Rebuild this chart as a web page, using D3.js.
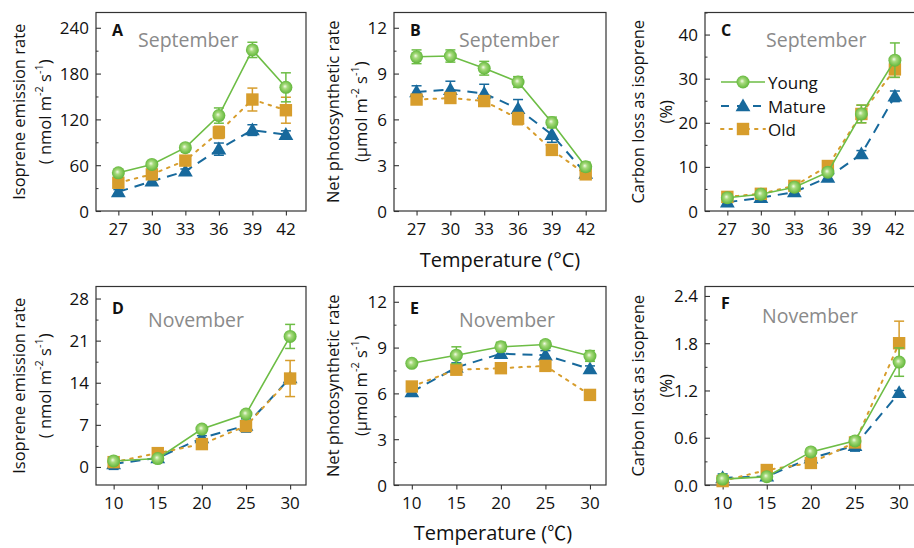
<!DOCTYPE html>
<html>
<head>
<meta charset="utf-8">
<script src="https://cdn.jsdelivr.net/npm/d3@7"></script>
<style>
  html, body { margin: 0; padding: 0; background: #fff; }
  svg { display: block; }
  text { font-family: "Open Sans", "Noto Sans", sans-serif; fill: #111; }
</style>
</head>
<body>
<svg id="chart" width="914" height="548"></svg>
<script>
// Temperatures of the response curves
const tempSep = [27, 30, 33, 36, 39, 42];
const tempNov = [10, 15, 20, 25, 30];

// Leaf age groups
const groups = ["Young", "Mature", "Old"];

// September: isoprene emission rate (nmol m-2 s-1)
const isoSepYoung = [50, 61, 83, 125, 211, 162];
const isoSepYoungErr = [3, 3, 3, 10, 10, 19];
const isoSepMature = [25, 39, 52, 81, 106, 100];
const isoSepMatureErr = [3, 3, 3, 8, 7, 5];
const isoSepOld = [37, 48, 66, 103, 146, 132];
const isoSepOldErr = [3, 3, 4, 8, 15, 17];

// September: net photosynthetic rate (umol m-2 s-1)
const pnSepYoung = [10.1, 10.15, 9.35, 8.45, 5.8, 2.9];
const pnSepYoungErr = [0.45, 0.4, 0.45, 0.35, 0.35, 0.3];
const pnSepMature = [7.8, 7.95, 7.7, 6.7, 5.0, 2.45];
const pnSepMatureErr = [0.4, 0.55, 0.6, 0.6, 0.5, 0.3];
const pnSepOld = [7.3, 7.4, 7.2, 6.05, 4.0, 2.4];
const pnSepOldErr = [0.3, 0.3, 0.3, 0.4, 0.35, 0.3];

// September: carbon loss as isoprene (%)
const clSepYoung = [3.0, 3.8, 5.4, 8.8, 22.0, 34.2];
const clSepYoungErr = [0.5, 0.5, 0.5, 0.7, 2.0, 3.9];
const clSepMature = [2.0, 3.0, 4.3, 7.6, 12.9, 26.0];
const clSepMatureErr = [0.4, 0.4, 0.5, 0.6, 0.8, 1.2];
const clSepOld = [3.2, 3.9, 5.7, 10.2, 22.0, 32.1];
const clSepOldErr = [0.4, 0.4, 0.5, 0.8, 2.0, 1.8];

// November: isoprene emission rate
const isoNovYoung = [1.0, 1.4, 6.3, 8.8, 21.7];
const isoNovYoungErr = [0.4, 0.3, 0.5, 0.5, 2.0];
const isoNovMature = [0.5, 1.5, 4.8, 6.9, 14.8];
const isoNovMatureErr = [0.9, 0.3, 0.4, 1.1, 0.5];
const isoNovOld = [0.8, 2.3, 3.8, 6.8, 14.7];
const isoNovOldErr = [0.3, 0.3, 0.4, 0.6, 3.0];

// November: net photosynthetic rate
const pnNovYoung = [7.97, 8.5, 9.05, 9.2, 8.45];
const pnNovYoungErr = [0.2, 0.55, 0.3, 0.25, 0.35];
const pnNovMature = [6.1, 7.7, 8.6, 8.5, 7.6];
const pnNovMatureErr = [0.2, 0.3, 0.25, 0.3, 0.2];
const pnNovOld = [6.45, 7.55, 7.65, 7.8, 5.9];
const pnNovOldErr = [0.2, 0.2, 0.2, 0.25, 0.2];

// November: carbon lost as isoprene
const clNovYoung = [0.075, 0.105, 0.42, 0.56, 1.56];
const clNovYoungErr = [0.02, 0.02, 0.03, 0.05, 0.18];
const clNovMature = [0.09, 0.11, 0.34, 0.5, 1.17];
const clNovMatureErr = [0.05, 0.03, 0.03, 0.07, 0.03];
const clNovOld = [0.05, 0.19, 0.28, 0.54, 1.8];
const clNovOldErr = [0.02, 0.03, 0.03, 0.04, 0.28];

// Axis ticks
const ticksIsoSep = [0, 60, 120, 180, 240];
const ticksPn = [0, 3, 6, 9, 12];
const ticksClSep = [0, 10, 20, 30, 40];
const ticksIsoNov = [0, 7, 14, 21, 28];
const ticksClNov = [0, 0.6, 1.2, 1.8, 2.4];

const colors = { Young: "#6dbd45", Mature: "#17699c", Old: "#d79d2c" };
const dashes = { Young: null, Mature: "10,7", Old: "2.5,6" };
const widths = { Young: 1.6, Mature: 2, Old: 2 };

const svg = d3.select("#chart");
const defs = svg.append("defs");
const grad = defs.append("radialGradient").attr("id", "ball")
  .attr("cx", "0.5").attr("cy", "0.5").attr("r", "0.6")
  .attr("fx", "0.42").attr("fy", "0.42");
grad.append("stop").attr("offset", "0").attr("stop-color", "#f4fbe8");
grad.append("stop").attr("offset", "0.3").attr("stop-color", "#a6da7c");
grad.append("stop").attr("offset", "0.75").attr("stop-color", "#6dbd45");
grad.append("stop").attr("offset", "1").attr("stop-color", "#5aa838");

const symTri = d3.symbol().type(d3.symbolTriangle).size(95);

function drawMarker(g, grp, x, y) {
  if (grp === "Young") {
    g.append("circle").attr("cx", x).attr("cy", y).attr("r", 6.5)
      .attr("fill", "url(#ball)");
  } else if (grp === "Mature") {
    g.append("path").attr("d", symTri)
      .attr("transform", `translate(${x},${y + 1})`)
      .attr("fill", colors.Mature);
  } else {
    g.append("rect").attr("x", x - 6.2).attr("y", y - 6.2)
      .attr("width", 12.4).attr("height", 12.4).attr("fill", colors.Old);
  }
}

const TOP = [12.5, 211], BOT = [286.5, 485];
const COLS = [[96, 306], [394, 606], [705, 915]];

const panels = [
  { letter: "A", month: "September", monthPos: [138, 39.5], col: 0, rows: TOP, xs: tempSep, xDom: [25, 43.8],
    yDom: [0, 260], ticks: ticksIsoSep, minor: 30, fmt: d3.format("d"),
    series: { Young: [isoSepYoung, isoSepYoungErr], Mature: [isoSepMature, isoSepMatureErr], Old: [isoSepOld, isoSepOldErr] },
    ylab: ["Isoprene emission rate", "nmol"] , labX: [18, 44] },
  { letter: "B", month: "September", monthPos: [459, 39.5], col: 1, rows: TOP, xs: tempSep, xDom: [25, 43.8],
    yDom: [0, 13], ticks: ticksPn, minor: 1.5, fmt: d3.format("d"),
    series: { Young: [pnSepYoung, pnSepYoungErr], Mature: [pnSepMature, pnSepMatureErr], Old: [pnSepOld, pnSepOldErr] },
    ylab: ["Net photosynthetic rate", "umol"], labX: [332, 360] },
  { letter: "C", month: "September", monthPos: [766, 39.5], col: 2, rows: TOP, xs: tempSep, xDom: [25, 43.8],
    yDom: [0, 45], ticks: ticksClSep, minor: 5, fmt: d3.format("d"),
    series: { Young: [clSepYoung, clSepYoungErr], Mature: [clSepMature, clSepMatureErr], Old: [clSepOld, clSepOldErr] },
    ylab: ["Carbon loss as isoprene", "pct"], labX: [637, 665], legend: true },
  { letter: "D", month: "November", monthPos: [148, 319.5], col: 0, rows: BOT, xs: tempNov, xDom: [8, 31.8],
    yDom: [-3, 30], ticks: ticksIsoNov, minor: 3.5, fmt: d3.format("d"),
    series: { Young: [isoNovYoung, isoNovYoungErr], Mature: [isoNovMature, isoNovMatureErr], Old: [isoNovOld, isoNovOldErr] },
    ylab: ["Isoprene emission rate", "nmol"], labX: [18, 44] },
  { letter: "E", month: "November", monthPos: [459, 319.5], col: 1, rows: BOT, xs: tempNov, xDom: [8, 31.8],
    yDom: [0, 13], ticks: ticksPn, minor: 1.5, fmt: d3.format("d"),
    series: { Young: [pnNovYoung, pnNovYoungErr], Mature: [pnNovMature, pnNovMatureErr], Old: [pnNovOld, pnNovOldErr] },
    ylab: ["Net photosynthetic rate", "umol"], labX: [332, 360] },
  { letter: "F", month: "November", monthPos: [762, 315.5], col: 2, rows: BOT, xs: tempNov, xDom: [8, 31.8],
    yDom: [0, 2.52], ticks: ticksClNov, minor: 0.3, fmt: d3.format(".1f"),
    series: { Young: [clNovYoung, clNovYoungErr], Mature: [clNovMature, clNovMatureErr], Old: [clNovOld, clNovOldErr] },
    ylab: ["Carbon lost as isoprene", "pct"], labX: [637, 665] }
];

const letterY = { A: 30, B: 29.5, C: 29.5, D: 307.5, E: 307.5, F: 302.5 };

function unitLine(t, kind) {
  // second line of the y-axis title, with superscripted exponents
  if (kind === "pct") { t.text("(%)"); return; }
  const open = kind === "nmol" ? "( nmol m" : "(\u03bcmol m";
  t.append("tspan").text(open);
  t.append("tspan").attr("dy", -6).attr("font-size", 11).text("-2");
  t.append("tspan").attr("dy", 6).text(" s");
  t.append("tspan").attr("dy", -6).attr("font-size", 11).text("-1");
  t.append("tspan").attr("dy", 6).text(")");
}

panels.forEach(p => {
  const [x0, x1] = COLS[p.col];
  const [y0, y1] = p.rows;
  const x = d3.scaleLinear().domain(p.xDom).range([x0, x1]);
  const y = d3.scaleLinear().domain(p.yDom).range([y1, y0]);
  const g = svg.append("g");

  // frame
  g.append("rect").attr("x", x0).attr("y", y0).attr("width", x1 - x0).attr("height", y1 - y0)
    .attr("fill", "none").attr("stroke", "#333").attr("stroke-width", 1.2);

  // y axis: major ticks pointing inward, labelled
  const yAxis = d3.axisRight(y).tickValues(p.ticks).tickSize(5).tickFormat("");
  g.append("g").attr("transform", `translate(${x0},0)`).call(yAxis)
    .call(a => a.select(".domain").remove())
    .call(a => a.selectAll("line").attr("stroke", "#333").attr("stroke-width", 1.1));
  const minorVals = d3.range(p.yDom[0], p.yDom[1] + 1e-9, p.minor)
    .map(v => Math.round(v / p.minor) * p.minor)
    .filter(v => v >= p.yDom[0] && v <= p.yDom[1] && !p.ticks.some(t => Math.abs(t - v) < 1e-9));
  g.append("g").attr("transform", `translate(${x0},0)`)
    .call(d3.axisRight(y).tickValues(minorVals).tickSize(2.5).tickFormat(""))
    .call(a => a.select(".domain").remove())
    .call(a => a.selectAll("line").attr("stroke", "#333").attr("stroke-width", 1));
  g.selectAll(".ylab").data(p.ticks).enter().append("text")
    .attr("x", x0 - 7).attr("y", d => y(d)).attr("text-anchor", "end")
    .attr("dominant-baseline", "central").attr("font-size", 17).text(p.fmt);

  // x axis: ticks pointing outward
  g.append("g").attr("transform", `translate(0,${y1})`)
    .call(d3.axisBottom(x).tickValues(p.xs).tickSize(4.5).tickFormat(""))
    .call(a => a.select(".domain").remove())
    .call(a => a.selectAll("line").attr("stroke", "#333").attr("stroke-width", 1.1));
  g.selectAll(".xlab").data(p.xs).enter().append("text")
    .attr("x", d => x(d)).attr("y", y1 + 17).attr("text-anchor", "middle")
    .attr("dominant-baseline", "central").attr("font-size", 17).text(d => d);

  // y axis title (two lines)
  const cy = (y0 + y1) / 2;
  g.append("text").attr("transform", `translate(${p.labX[0]},${cy}) rotate(-90)`)
    .attr("text-anchor", "middle").attr("dominant-baseline", "central")
    .attr("font-size", 16.5).text(p.ylab[0]);
  const t2 = g.append("text").attr("transform", `translate(${p.labX[1]},${cy}) rotate(-90)`)
    .attr("text-anchor", "middle").attr("dominant-baseline", "central")
    .attr("font-size", 16.5);
  unitLine(t2, p.ylab[1]);

  // panel letter and month
  g.append("text").attr("x", x0 + 16).attr("y", letterY[p.letter]).attr("dominant-baseline", "central")
    .attr("font-size", 16).attr("font-weight", "bold").text(p.letter);
  g.append("text").attr("x", p.monthPos[0]).attr("y", p.monthPos[1]).attr("dominant-baseline", "central")
    .attr("font-size", 19.5).style("fill", "#8a8a8a").text(p.month);

  // series: lines, error bars, markers
  const line = d3.line().x(d => x(d[0])).y(d => y(d[1]));
  ["Mature", "Old", "Young"].forEach(grp => {
    const [vals, errs] = p.series[grp];
    const pts = p.xs.map((t, i) => [t, vals[i], errs[i]]);
    const sg = g.append("g");
    sg.append("path").datum(pts).attr("d", line).attr("fill", "none")
      .attr("stroke", colors[grp]).attr("stroke-width", widths[grp])
      .attr("stroke-dasharray", dashes[grp]).attr("stroke-linecap", grp === "Old" ? "round" : "butt");
    pts.forEach(d => {
      const cx = x(d[0]);
      const yt = y(d[1] + d[2]), yb = y(d[1] - d[2]);
      sg.append("line").attr("x1", cx).attr("x2", cx).attr("y1", yt).attr("y2", yb)
        .attr("stroke", colors[grp]).attr("stroke-width", 1.5);
      [yt, yb].forEach(yy => sg.append("line").attr("x1", cx - 5).attr("x2", cx + 5)
        .attr("y1", yy).attr("y2", yy).attr("stroke", colors[grp]).attr("stroke-width", 1.5));
      drawMarker(sg, grp, cx, y(d[1]));
    });
  });

  // legend
  if (p.legend) {
    const lx0 = 721, lx1 = 765, rows = [82, 106, 129];
    groups.forEach((grp, i) => {
      const ly = rows[i];
      g.append("line").attr("x1", lx0).attr("x2", lx1).attr("y1", ly).attr("y2", ly)
        .attr("stroke", colors[grp]).attr("stroke-width", widths[grp])
        .attr("stroke-dasharray", grp === "Mature" ? "8,8" : dashes[grp])
        .attr("stroke-linecap", grp === "Old" ? "round" : "butt");
      drawMarker(g, grp, (lx0 + lx1) / 2, ly);
      g.append("text").attr("x", lx1 + 3).attr("y", ly).attr("dominant-baseline", "central")
        .attr("font-size", 17).text(grp);
    });
  }
});

// shared x axis titles
svg.append("text").attr("x", 500).attr("y", 259).attr("text-anchor", "middle")
  .attr("dominant-baseline", "central").attr("font-size", 20).text("Temperature (\u00b0C)");
const tb = svg.append("text").attr("x", 493).attr("y", 540).attr("text-anchor", "middle")
  .attr("font-size", 20);
tb.append("tspan").text("Temperature (");
tb.append("tspan").style("font-family", "'Noto Sans CJK SC', sans-serif").attr("font-size", 19).text("\u2103");
tb.append("tspan").text(")");
</script>
</body>
</html>
